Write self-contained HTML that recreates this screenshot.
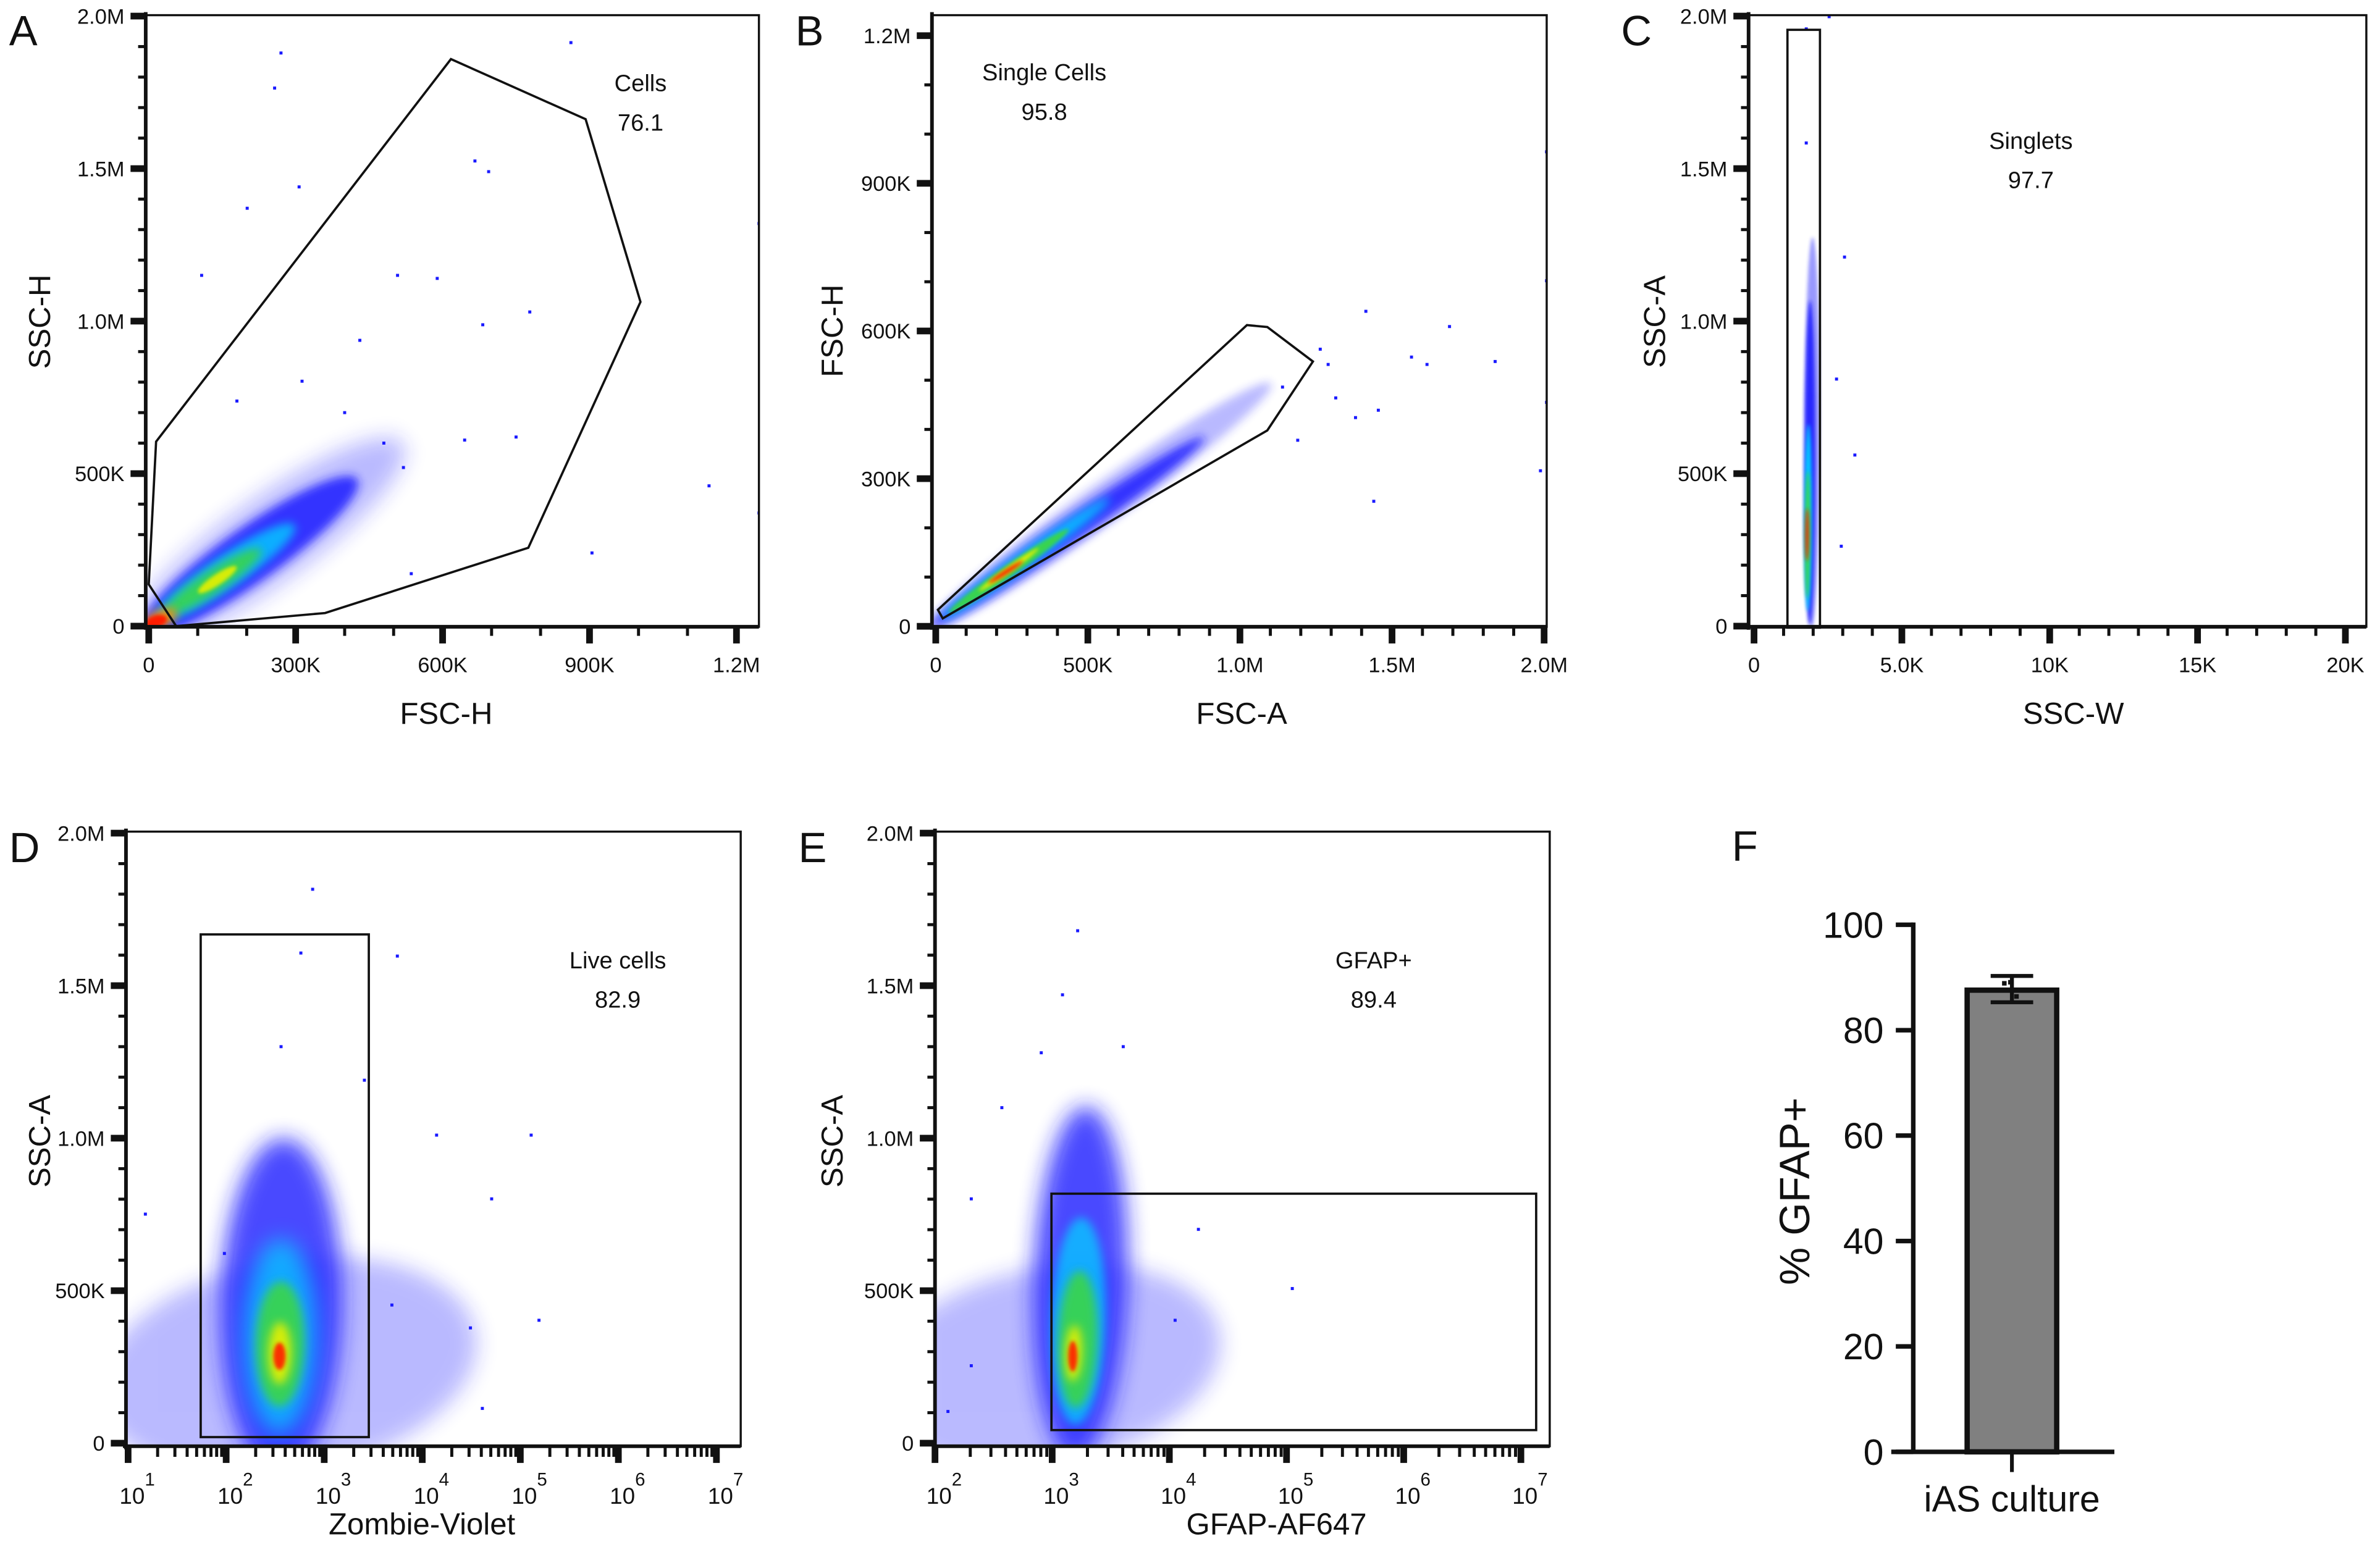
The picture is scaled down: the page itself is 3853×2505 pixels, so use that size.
<!DOCTYPE html>
<html><head><meta charset="utf-8"><style>
html,body{margin:0;padding:0;background:#fff;}
svg{display:block;}
text{font-family:"Liberation Sans",sans-serif;fill:#111;}
</style></head><body>
<svg id="fig" xmlns="http://www.w3.org/2000/svg" width="3853" height="2505" viewBox="0 0 1568 1019.4" preserveAspectRatio="none">
<defs>
<filter id="blur6" filterUnits="userSpaceOnUse" x="0" y="0" width="1568" height="1020"><feGaussianBlur stdDeviation="7"/></filter>
<filter id="blur3" filterUnits="userSpaceOnUse" x="0" y="0" width="1568" height="1020"><feGaussianBlur stdDeviation="3"/></filter>
<filter id="blur1" filterUnits="userSpaceOnUse" x="0" y="0" width="1568" height="1020"><feGaussianBlur stdDeviation="1.2"/></filter>
</defs>
</svg>
<script>
// ---------- DATA ----------
const gateA = [[15e3,605e3],[617e3,1.859e6],[892e3,1.662e6],[1004e3,1.063e6],[775e3,257e3],[360e3,43e3],[56e3,0],[0,137e3]];
const gateB = [[7e3,33.6e3],[1.023e6,612e3],[1.09e6,608e3],[1.24e6,538e3],[1.09e6,398e3],[23e3,16e3]];
const gateC = [1130,2230,-5e3,1.955e6];
const gateD = [55,2850,20e3,1.668e6];
const gateE = [986,1.35e7,43e3,818e3];
// Density bands: [x1,y1,x2,y2,widthPx,colorIndex,opacity]
const colors = ["#1f1fff","#00d8ff","#3cd83c","#e8f000","#ff8c00","#ff1a00"];
const cloudA = [[30e3,30e3,450e3,520e3,55,0,0.3],[30e3,30e3,380e3,430e3,36,0,0.85],[40e3,50e3,270e3,300e3,22,1,0.75],[50e3,60e3,210e3,230e3,15,2,0.85],[110e3,120e3,170e3,185e3,7,3,0.9],[5e3,10e3,40e3,35e3,12,4,0.9],[5e3,10e3,25e3,20e3,8,5,1]];
const cloudB = [[20e3,15e3,1.05e6,470e3,26,0,0.3],[20e3,15e3,850e3,370e3,16,0,0.85],[40e3,25e3,550e3,250e3,11,1,0.8],[60e3,35e3,420e3,190e3,8,2,0.9],[150e3,75e3,330e3,155e3,4,3,0.9],[180e3,90e3,280e3,130e3,3,5,0.9]];
const cloudC = [[1950,20e3,1980,1.25e6,10,0,0.45],[1880,20e3,1900,1.05e6,7,0,0.9],[1820,60e3,1840,650e3,5,1,0.9],[1800,100e3,1820,500e3,3.5,2,0.9],[1790,220e3,1800,380e3,2.5,5,0.9]];
const cloudD = [[60,200e3,3000,300e3,140,0,0.3],[350,100e3,380,800e3,80,0,0.8],[350,150e3,360,550e3,48,1,0.7],[350,200e3,360,450e3,32,2,0.85],[350,230e3,355,360e3,15,3,0.9],[350,260e3,350,310e3,8,5,0.9]];
const cloudE = [[200,200e3,4000,300e3,130,0,0.3],[1600,100e3,1900,950e3,62,0,0.8],[1600,150e3,1750,650e3,36,1,0.7],[1600,180e3,1700,500e3,26,2,0.85],[1500,230e3,1550,360e3,11,3,0.9],[1500,250e3,1500,320e3,6,5,0.9]];
const ptsA = [[270e3,1.879e6],[257e3,1.764e6],[307e3,1.44e6],[201e3,1.37e6],[108e3,1.15e6],[508e3,1.15e6],[589e3,1.14e6],[666e3,1.525e6],[694e3,1.49e6],[778e3,1.03e6],[862e3,1.913e6],[1.246e6,1.32e6],[1.144e6,460e3],[1.246e6,371e3],[645e3,610e3],[682e3,988e3],[431e3,937e3],[313e3,803e3],[180e3,738e3],[750e3,620e3],[536e3,172e3],[905e3,240e3],[480e3,600e3],[520e3,520e3],[400e3,700e3]];
const ptsB = [[2.008e6,964e3],[2.008e6,702e3],[2.008e6,455e3],[1.689e6,609e3],[1.839e6,538e3],[1.615e6,532e3],[1.455e6,439e3],[1.38e6,424e3],[1.29e6,532e3],[1.414e6,640e3],[1.564e6,547e3],[1.988e6,316e3],[1.19e6,378e3],[1.264e6,563e3],[1.14e6,486e3],[1.315e6,464e3],[1.44e6,254e3]];
const ptsC = [[1766,1.958e6],[2540,1.998e6],[1766,1.584e6],[3060,1.21e6],[3410,561e3],[2790,810e3],[2950,262e3]];
const ptsD = [[762,1.816e6],[578,1.607e6],[5570,1.597e6],[1.29e5,1.01e6],[5.1e4,801e3],[1.55e5,403e3],[4.1e4,114e3],[1.4e4,1.01e6],[15,751e3],[96,622e3],[4900,453e3],[3.1e4,378e3],[2570,1.19e6],[363,1.3e6]];
const ptsE = [[1650,1.68e6],[1225,1.47e6],[807,1.28e6],[4040,1.3e6],[1.12e5,507e3],[372,1.1e6],[204,801e3],[1.77e4,701e3],[1.12e4,403e3],[204,254e3],[129,104e3]];
// Bar chart F
const barCategories = ["iAS culture"];
const barValues = [87.6];
const barErrLow = [85.3];
const barErrHigh = [90.3];
const barReplicates = [88.9,89.1,86.4];
const barTicks = [0,20,40,60,80,100];

// ---------- HELPERS ----------
const svg = document.getElementById('fig');
const defs = svg.querySelector('defs');
const NS = "http://www.w3.org/2000/svg";
function mk(tag, at, parent){ const e=document.createElementNS(NS,tag); for(const k in at) e.setAttribute(k,at[k]); (parent||svg).appendChild(e); return e; }
function txt(s, at, parent){ const e=mk('text',at,parent); e.textContent=s; return e; }
function lin(a,b,c,d){ return v=>c+(v-a)/(b-a)*(d-c); }
function logs(d0,p0,perDec){ return v=>p0+(Math.log10(v)-d0)*perDec; }

function drawPanel(p){
  const g = mk('g',{});
  
  
  const cp = mk('clipPath',{id:'clip-'+p.name}, defs);
  mk('rect',{x:p.x0,y:p.y0,width:p.x1-p.x0,height:p.y1-p.y0}, cp);
  const cg = mk('g',{'clip-path':'url(#clip-'+p.name+')'}, g);
  
  
  p.cloud.forEach(s=>{
    const ax=p.xs(s[0]), ay=p.ys(s[1]), bx=p.xs(s[2]), by=p.ys(s[3]);
    const cx=(ax+bx)/2, cy=(ay+by)/2, len=Math.hypot(bx-ax,by-ay), ang=Math.atan2(by-ay,bx-ax)*180/Math.PI;
    const e = mk('ellipse',{cx:cx,cy:cy,rx:len/2+s[4]/2,ry:s[4]/2,fill:colors[s[5]],opacity:s[6],
      transform:'rotate('+ang+' '+cx+' '+cy+')',filter:s[4]>40?'url(#blur6)':(s[4]>10?'url(#blur3)':'url(#blur1)')}, cg);
    
    
  });
  p.pts.forEach(q=>{
    const r = mk('rect',{x:p.xs(q[0])-1,y:p.ys(q[1])-1,width:2,height:2,fill:'#1a1aff'}, cg);
    
    
  });
  const b = mk('rect',{x:p.x0,y:p.y0,width:p.x1-p.x0,height:p.y1-p.y0,fill:'none',stroke:'#111','stroke-width':1.4}, g);
  
  
  mk('line',{x1:p.x0,y1:p.y0-2,x2:p.x0,y2:p.y1+2,stroke:'#111','stroke-width':2.4}, g);
  mk('line',{x1:p.x0-2,y1:p.y1,x2:p.x1,y2:p.y1,stroke:'#111','stroke-width':2.4}, g);
  let gate;
  if(p.gatePoly){
    gate = mk('polygon',{points:p.gatePoly.map(q=>p.xs(q[0])+','+p.ys(q[1])).join(' '),fill:'none',stroke:'#111','stroke-width':1.5}, g);
  } else {
    const r=p.gateRect;
    gate = mk('rect',{x:p.xs(r[0]),y:p.ys(r[3]),width:p.xs(r[1])-p.xs(r[0]),height:p.ys(r[2])-p.ys(r[3]),fill:'none',stroke:'#111','stroke-width':1.5}, g);
  }
  
  
  const gl = txt(p.gateLabel,{x:p.gx,y:p.gy,'font-size':15.5,'text-anchor':'middle'}, g);
  
  
  const gv = txt(p.gateValue,{x:p.gx,y:p.gy+26,'font-size':15.5,'text-anchor':'middle'}, g);
  
  
  p.yMinor.forEach(v=>{ mk('rect',{x:p.x0-5,y:p.ys(v)-1,width:5,height:2,fill:'#111'}, g); });
  p.yMajor.forEach((v,i)=>{
    mk('rect',{x:p.x0-10,y:p.ys(v)-2.2,width:10,height:4.4,fill:'#111'}, g);
    const t = txt(p.yLabels[i],{x:p.x0-14,y:p.ys(v)+5,'font-size':14,'text-anchor':'end'}, g);
    
    
  });
  p.xMinor.forEach(v=>{ mk('rect',{x:p.xs(v)-1,y:p.y1,width:2,height:p.log?7:6,fill:'#111'}, g); });
  p.xMajor.forEach((v,i)=>{
    mk('rect',{x:p.xs(v)-2.2,y:p.y1,width:4.4,height:11,fill:'#111'}, g);
    let t;
    if(p.log){
      t = txt('10',{x:p.xs(v)+p.lOff,y:p.y1+38,'font-size':15,'text-anchor':'middle'}, g);
      const sp = mk('tspan',{dy:-12,'font-size':12}, t); sp.textContent=p.xLabels[i];
    } else {
      t = txt(p.xLabels[i],{x:p.xs(v),y:p.y1+30,'font-size':14,'text-anchor':'middle'}, g);
    }
    
    
  });
  const xt = txt(p.xTitle,{x:p.xtx,y:p.xty,'font-size':20,'text-anchor':'middle'}, g);
  
  
  const yt = txt(p.yTitle,{x:0,y:0,'font-size':20,'text-anchor':'middle',transform:'translate('+p.ytx+','+p.yty+') rotate(-90)'}, g);
  
  
  const pl = txt(p.letter,{x:p.lx,y:p.ly,'font-size':28}, g);
  
  
}
function range(a,b,s){ const r=[]; for(let v=a; v<=b+1e-9; v+=s) r.push(v); return r; }
function logMinor(d0,d1){ const r=[]; for(let d=d0; d<d1; d++) for(let m=2;m<=9;m++) r.push(m*Math.pow(10,d)); return r; }
function decades(d0,d1){ const r=[]; for(let d=d0; d<=d1; d++) r.push(Math.pow(10,d)); return r; }

const yLin = lin(0,2e6,412.6,10.6);
drawPanel({name:'panel-a',letter:'A',lx:6,ly:30,x0:96,x1:500,y0:10,y1:413,
  xs:lin(0,300e3,98,194.8), ys:yLin, cloud:cloudA, pts:ptsA, gatePoly:gateA,
  gateLabel:'Cells',gateValue:'76.1',gx:422,gy:60,
  yMajor:[0,5e5,1e6,1.5e6,2e6], yLabels:['0','500K','1.0M','1.5M','2.0M'], yMinor:range(0,2e6,1e5),
  xMajor:[0,3e5,6e5,9e5,1.2e6], xLabels:['0','300K','600K','900K','1.2M'], xMinor:range(0,1.2e6,1e5),
  xTitle:'FSC-H',xtx:294,xty:477,yTitle:'SSC-H',ytx:33,yty:212});
drawPanel({name:'panel-b',letter:'B',lx:524,ly:30,x0:614,x1:1019,y0:10,y1:413,
  xs:lin(0,500e3,616.5,716.7), ys:lin(0,300e3,412.7,315.4), cloud:cloudB, pts:ptsB, gatePoly:gateB,
  gateLabel:'Single Cells',gateValue:'95.8',gx:688,gy:53,
  yMajor:[0,3e5,6e5,9e5,1.2e6], yLabels:['0','300K','600K','900K','1.2M'], yMinor:range(0,1.2e6,1e5),
  xMajor:[0,5e5,1e6,1.5e6,2e6], xLabels:['0','500K','1.0M','1.5M','2.0M'], xMinor:range(0,2e6,1e5),
  xTitle:'FSC-A',xtx:818,xty:477,yTitle:'FSC-H',ytx:555,yty:218});
drawPanel({name:'panel-c',letter:'C',lx:1068,ly:30,x0:1152,x1:1559,y0:10,y1:413,
  xs:lin(0,5000,1155.6,1253), ys:yLin, cloud:cloudC, pts:ptsC, gateRect:gateC,
  gateLabel:'Singlets',gateValue:'97.7',gx:1338,gy:98,
  yMajor:[0,5e5,1e6,1.5e6,2e6], yLabels:['0','500K','1.0M','1.5M','2.0M'], yMinor:range(0,2e6,1e5),
  xMajor:[0,5000,10000,15000,20000], xLabels:['0','5.0K','10K','15K','20K'], xMinor:range(0,20000,1000),
  xTitle:'SSC-W',xtx:1366,xty:477,yTitle:'SSC-A',ytx:1097,yty:212});
const yLinD = lin(0,2e6,951,549);
drawPanel({name:'panel-d',letter:'D',lx:6,ly:568,x0:83,x1:488,y0:548,y1:953,log:true,lOff:6,
  xs:logs(1,84.4,64.6), ys:yLinD, cloud:cloudD, pts:ptsD, gateRect:gateD,
  gateLabel:'Live cells',gateValue:'82.9',gx:407,gy:638,
  yMajor:[0,5e5,1e6,1.5e6,2e6], yLabels:['0','500K','1.0M','1.5M','2.0M'], yMinor:range(0,2e6,1e5),
  xMajor:decades(1,7), xLabels:['1','2','3','4','5','6','7'], xMinor:logMinor(1,7),
  xTitle:'Zombie-Violet',xtx:278,xty:1011,yTitle:'SSC-A',ytx:33,yty:752});
drawPanel({name:'panel-e',letter:'E',lx:526,ly:568,x0:616,x1:1021,y0:548,y1:953,log:true,lOff:6,
  xs:logs(2,616,77.2), ys:yLinD, cloud:cloudE, pts:ptsE, gateRect:gateE,
  gateLabel:'GFAP+',gateValue:'89.4',gx:905,gy:638,
  yMajor:[0,5e5,1e6,1.5e6,2e6], yLabels:['0','500K','1.0M','1.5M','2.0M'], yMinor:range(0,2e6,1e5),
  xMajor:decades(2,7), xLabels:['2','3','4','5','6','7'], xMinor:logMinor(2,7),
  xTitle:'GFAP-AF647',xtx:841,xty:1011,yTitle:'SSC-A',ytx:555,yty:752});

// ---------- PANEL F ----------
(function(){
  const ys = lin(0,100,956.7,609.4);
  const g = mk('g',{});
  
  
  const L = txt('F',{x:1141,y:567,'font-size':28},g);
  
  
  const ax = mk('line',{x1:1260.5,y1:ys(100)-1.5,x2:1260.5,y2:ys(0),stroke:'#111','stroke-width':3},g);
  
  
  barTicks.forEach(v=>{
    mk('line',{x1:1249,y1:ys(v),x2:1260.5,y2:ys(v),stroke:'#111','stroke-width':3},g);
    const t = txt(String(v),{x:1241,y:ys(v)+8.5,'font-size':24,'text-anchor':'end'},g);
    
    
  });
  const bw = 59, cx = 1325.5;
  barValues.forEach((v,i)=>{
    const bar = mk('rect',{x:cx-bw/2,y:ys(v),width:bw,height:ys(0)-ys(v),fill:'#808080',stroke:'#111','stroke-width':3.5},g);
    
    
    const eb = mk('path',{d:'M'+(cx-14)+','+ys(barErrHigh[i])+'H'+(cx+14)+'M'+cx+','+ys(barErrHigh[i])+'V'+ys(barErrLow[i])+'M'+(cx-14)+','+ys(barErrLow[i])+'H'+(cx+14),stroke:'#111','stroke-width':2.6,fill:'none'},g);
    
    
    const xl = txt(barCategories[i],{x:cx,y:996,'font-size':24,'text-anchor':'middle'},g);
    
    
  });
  barReplicates.forEach((v,j)=>{
    const d = mk('rect',{x:cx-5+j*4-1.5,y:ys(v)-1.5,width:3,height:3,fill:'#111'},g);
    
    
  });
  const bl = mk('line',{x1:1246,y1:ys(0),x2:1393,y2:ys(0),stroke:'#111','stroke-width':3},g);
  
  
  mk('line',{x1:1325.5,y1:ys(0),x2:1325.5,y2:970,stroke:'#111','stroke-width':2.5},g);
  const yt = txt('% GFAP+',{x:0,y:0,'font-size':28,'text-anchor':'middle',transform:'translate(1192,785) rotate(-90)'},g);
  
  
})();
</script>
</body></html>
